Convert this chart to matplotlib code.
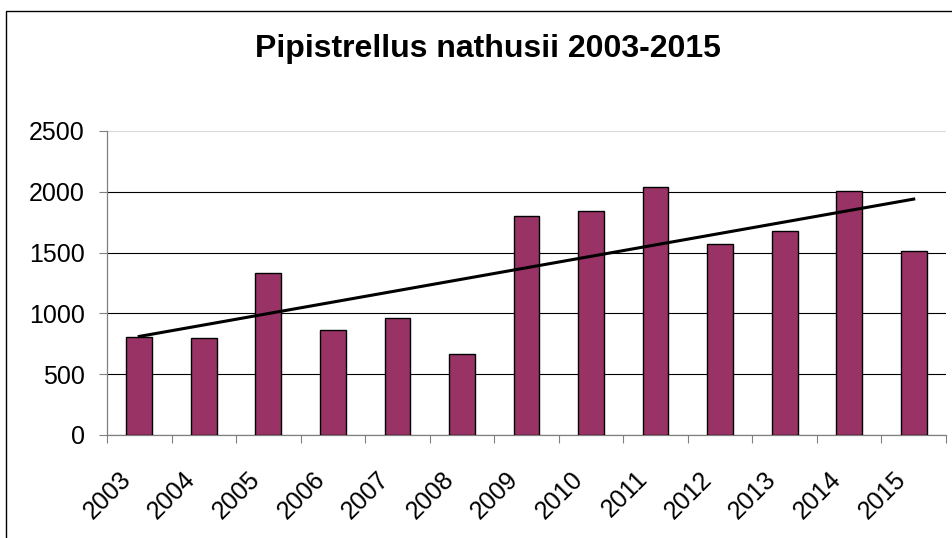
import matplotlib.pyplot as plt
import numpy as np
from matplotlib.patches import Rectangle
from matplotlib.ticker import FixedLocator
from matplotlib.transforms import ScaledTranslation

plt.rcParams['font.family'] = ['Liberation Sans', 'DejaVu Sans']

years = ['2003', '2004', '2005', '2006', '2007', '2008', '2009',
         '2010', '2011', '2012', '2013', '2014', '2015']
counts = [805, 800, 1330, 860, 960, 670, 1805, 1845, 2040, 1570, 1675, 2005, 1515]
yticks = [0, 500, 1000, 1500, 2000, 2500]

fig = plt.figure(figsize=(9.52, 5.38), dpi=100)
ax = fig.add_axes([107/952, 1 - 435/538, 839/952, 304/538])

x = np.arange(len(years))
ax.bar(x, counts, width=0.4, color='#993366', edgecolor='black', linewidth=1.0, zorder=3)

# linear trend
k, b = np.polyfit(x, counts, 1)
ax.plot(x, k * x + b, color='black', linewidth=2.2, zorder=4)

ax.set_xlim(-0.5, len(years) - 0.5)
ax.set_ylim(0, 2500)
ax.set_yticks(yticks)
ax.tick_params(axis='y', labelsize=18, length=6, width=0.8, color='#808080', pad=10)

ax.set_xticks(x)
ax.set_xticklabels(years, rotation=45, ha='right', va='center',
                   rotation_mode='anchor', fontsize=18)
ax.tick_params(axis='x', which='major', length=0, pad=29)
shift = ScaledTranslation(-12/100, 0, fig.dpi_scale_trans)
for lbl in ax.get_xticklabels():
    lbl.set_transform(lbl.get_transform() + shift)
ax.xaxis.set_minor_locator(FixedLocator(np.arange(-0.5, len(years), 1.0)))
ax.tick_params(axis='x', which='minor', length=6, width=0.8, color='#808080')

ax.grid(axis='y', color='black', linewidth=0.8, zorder=0)
ax.set_axisbelow(True)
ax.yaxis.get_gridlines()[-1].set_color('#d9d9d9')

for s in ['top', 'right']:
    ax.spines[s].set_visible(False)
for s in ['left', 'bottom']:
    ax.spines[s].set_color('#808080')
    ax.spines[s].set_linewidth(0.9)

fig.text(488/952, 1 - 57/538, 'Pipistrellus nathusii 2003-2015', fontsize=23,
         fontweight='bold', ha='center', va='baseline')

# chart border (left and top visible)
fig.patches.append(Rectangle((6/952, -0.05), 1.2, 1 - 11/538 + 0.05, transform=fig.transFigure,
                             fill=False, edgecolor='black', linewidth=1.0))

fig.savefig('out.png', dpi=100)
